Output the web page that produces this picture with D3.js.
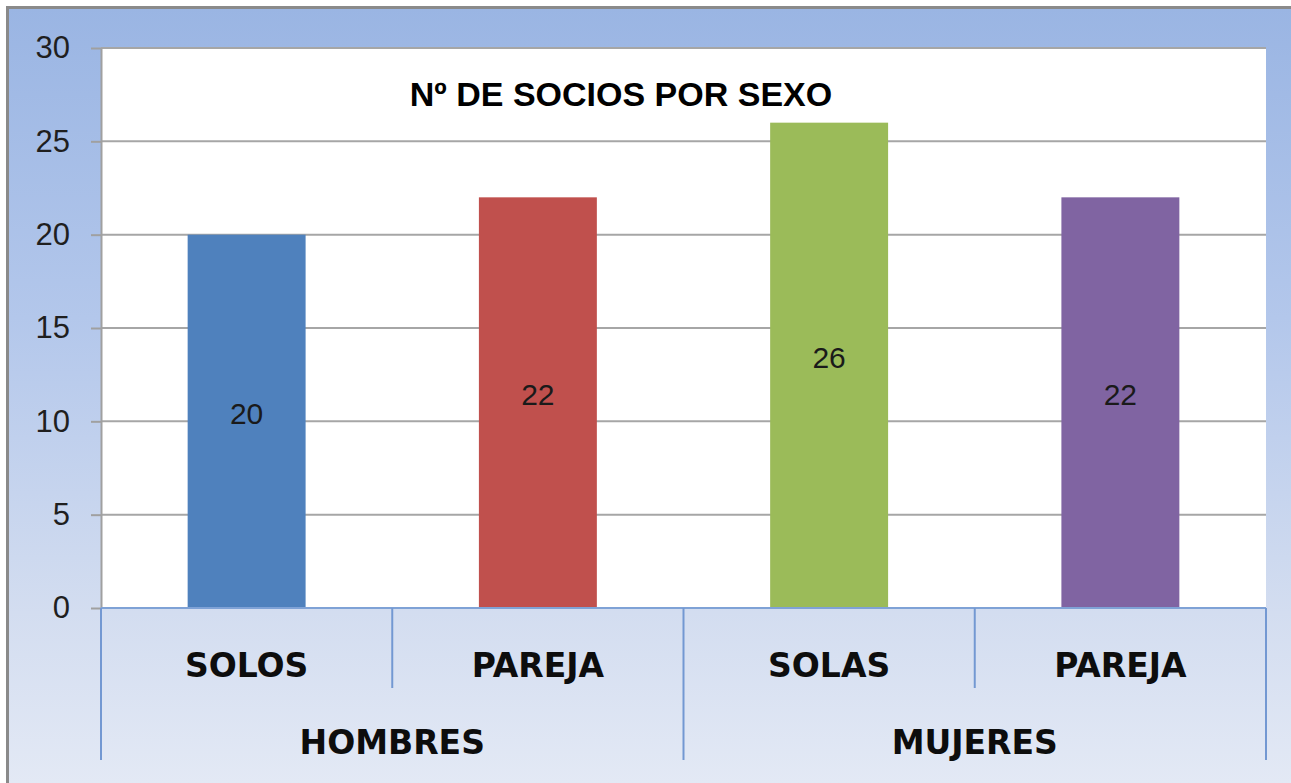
<!DOCTYPE html>
<html>
<head>
<meta charset="utf-8">
<script src="https://cdn.jsdelivr.net/npm/d3@7"></script>
<style>
  html, body { margin: 0; padding: 0; background: #ffffff; }
  svg { display: block; }
</style>
</head>
<body>
<svg id="chart" width="1291" height="783"></svg>
<script>
// ---- data ----
const categories = ["SOLOS", "PAREJA", "SOLAS", "PAREJA"];
const values = [20, 22, 26, 22];
const groups = ["HOMBRES", "MUJERES"];
const groupSizes = [2, 2];
const yTicks = [0, 5, 10, 15, 20, 25, 30];
const barColors = ["#4f81bd", "#c0504d", "#9bbb59", "#8064a2"];
const title = "Nº DE SOCIOS POR SEXO";

// ---- layout ----
const W = 1291, H = 783;
const plot = { left: 101, right: 1266, top: 48, bottom: 608 };
const svg = d3.select("#chart");

const defs = svg.append("defs");
const grad = defs.append("linearGradient").attr("id", "bg")
  .attr("x1", 0).attr("y1", 0).attr("x2", 0).attr("y2", 1);
grad.append("stop").attr("offset", "0%").attr("stop-color", "#9ab5e3");
grad.append("stop").attr("offset", "40%").attr("stop-color", "#b3c7eb");
grad.append("stop").attr("offset", "78%").attr("stop-color", "#d3ddf0");
grad.append("stop").attr("offset", "100%").attr("stop-color", "#e3e9f5");

// background panel with grey top/left edge
svg.append("rect").attr("x", 8).attr("y", 8).attr("width", W - 8).attr("height", H - 8)
  .attr("fill", "url(#bg)");
svg.append("line").attr("x1", 7).attr("x2", W).attr("y1", 7.5).attr("y2", 7.5)
  .attr("stroke", "#8a8a8a").attr("stroke-width", 3);
svg.append("line").attr("x1", 7.5).attr("x2", 7.5).attr("y1", 6).attr("y2", H)
  .attr("stroke", "#8a8a8a").attr("stroke-width", 3);

// plot area
svg.append("rect").attr("x", plot.left).attr("y", plot.top)
  .attr("width", plot.right - plot.left).attr("height", plot.bottom - plot.top)
  .attr("fill", "#ffffff");

const y = d3.scaleLinear().domain([0, 30]).range([plot.bottom, plot.top]);
const x = d3.scaleBand().domain(d3.range(categories.length))
  .range([plot.left, plot.right]).padding(0);

// gridlines
svg.append("g").selectAll("line").data(yTicks.filter(d => d > 0)).join("line")
  .attr("x1", plot.left).attr("x2", plot.right)
  .attr("y1", d => y(d)).attr("y2", d => y(d))
  .attr("stroke", "#a6a6a6").attr("stroke-width", 2);

// y axis
const yAxis = svg.append("g").attr("transform", `translate(${plot.left},0)`)
  .call(d3.axisLeft(y).tickValues(yTicks).tickSize(10).tickPadding(21).tickSizeOuter(0));
yAxis.select(".domain").attr("stroke", "#a0a0a0").attr("stroke-width", 2);
yAxis.selectAll(".tick line").attr("stroke", "#a0a0a0").attr("stroke-width", 2);
yAxis.selectAll(".tick text")
  .attr("font-family", "'Liberation Sans', Arial, sans-serif")
  .attr("font-size", 31).attr("fill", "#1f1f1f");

// bars
const barW = x.bandwidth() * 0.405;
svg.append("g").selectAll("rect").data(values).join("rect")
  .attr("x", (d, i) => x(i) + (x.bandwidth() - barW) / 2)
  .attr("y", d => y(d))
  .attr("width", barW)
  .attr("height", d => y(0) - y(d))
  .attr("fill", (d, i) => barColors[i]);

// value labels
svg.append("g").selectAll("text").data(values).join("text")
  .attr("x", (d, i) => x(i) + x.bandwidth() / 2)
  .attr("y", d => y(d / 2) - 8)
  .attr("text-anchor", "middle").attr("dominant-baseline", "central")
  .attr("font-family", "'Liberation Sans', Arial, sans-serif")
  .attr("font-size", 30).attr("fill", "#1a1a1a")
  .text(d => d);

// x axis line
svg.append("line").attr("x1", plot.left).attr("x2", plot.right)
  .attr("y1", plot.bottom).attr("y2", plot.bottom)
  .attr("stroke", "#7fa2d6").attr("stroke-width", 2);

// separators: category level (short) and group level (long)
const sepColor = "#7398d2";
let acc = 0;
const groupBounds = [0];
groupSizes.forEach(s => { acc += s; groupBounds.push(acc); });
d3.range(categories.length + 1).forEach(i => {
  const xp = i < categories.length ? x(i) : plot.right;
  const isGroup = groupBounds.includes(i);
  svg.append("line")
    .attr("x1", xp).attr("x2", xp)
    .attr("y1", plot.bottom).attr("y2", isGroup ? 760 : 688)
    .attr("stroke", sepColor).attr("stroke-width", 2);
});

// category labels
const catFont = "'Comic Sans MS', 'DejaVu Sans', sans-serif";
svg.append("g").selectAll("text").data(categories).join("text")
  .attr("x", (d, i) => x(i) + x.bandwidth() / 2)
  .attr("y", 665)
  .attr("text-anchor", "middle").attr("dominant-baseline", "central")
  .attr("font-family", catFont).attr("font-weight", "bold")
  .attr("font-size", 33).attr("fill", "#0d0d0d")
  .text(d => d);

// group labels
svg.append("g").selectAll("text").data(groups).join("text")
  .attr("x", (d, i) => {
    const a = x(groupBounds[i]);
    const bIdx = groupBounds[i + 1];
    const b = bIdx < categories.length ? x(bIdx) : plot.right;
    return (a + b) / 2;
  })
  .attr("y", 742)
  .attr("text-anchor", "middle").attr("dominant-baseline", "central")
  .attr("font-family", catFont).attr("font-weight", "bold")
  .attr("font-size", 33).attr("fill", "#0d0d0d")
  .text(d => d);

// title
svg.append("text")
  .attr("x", 621).attr("y", 94)
  .attr("text-anchor", "middle").attr("dominant-baseline", "central")
  .attr("font-family", "'Liberation Sans', Arial, sans-serif")
  .attr("font-weight", "bold").attr("font-size", 34).attr("fill", "#000")
  .text(title);
</script>
</body>
</html>
